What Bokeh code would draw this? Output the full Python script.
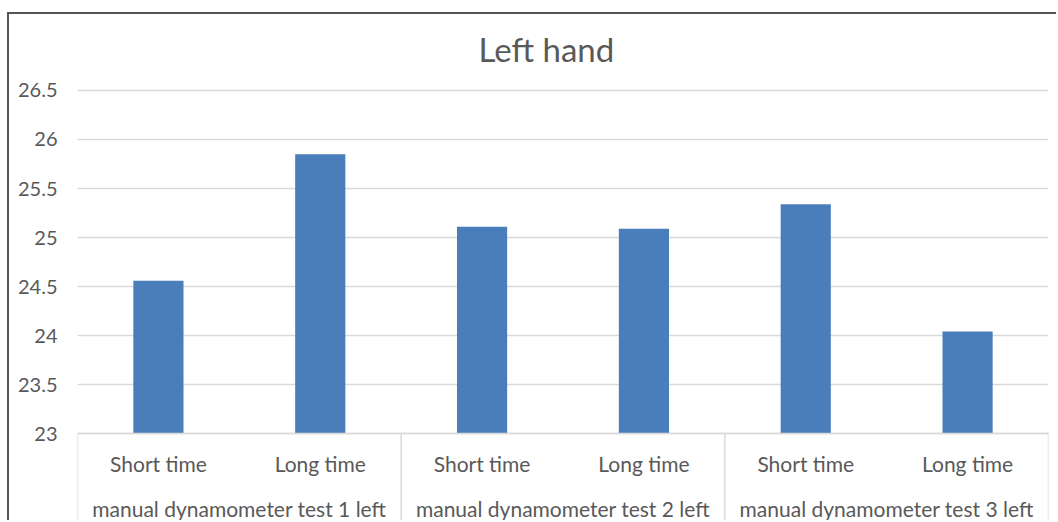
from bokeh.plotting import figure
from bokeh.models import FactorRange, Range1d, FixedTicker, ColumnDataSource
from bokeh.embed import file_html
from bokeh.resources import INLINE

# Grip strength, left hand, by test and duration
groups = ["manual dynamometer test 1 left",
          "manual dynamometer test 2 left",
          "manual dynamometer test 3 left"]
durations = ["Short time", "Long time"]
values = [24.56, 25.85, 25.11, 25.09, 25.34, 24.04]
y_ticks = [23, 23.5, 24, 24.5, 25, 25.5, 26, 26.5]

FONT = "Lato"
TEXT = "#595959"
GRID = "#d9d9d9"
BAR = "#4a7ebb"

factors = [(g, d) for g in groups for d in durations]
src = ColumnDataSource(dict(x=factors, top=values))

p = figure(
    width=1049, height=508,
    x_range=FactorRange(*factors, factor_padding=0, group_padding=0,
                        subgroup_padding=0, range_padding=0),
    y_range=Range1d(22.092, 26.602),
    output_backend="svg", toolbar_location=None,
    min_border_left=68, min_border_right=10,
    min_border_top=66, min_border_bottom=0,
    title="Left hand",
)
p.margin = (12, 0, 0, 7)
p.styles = {"border-top": "2px solid #555555", "border-left": "2px solid #555555"}
p.outline_line_color = None
p.background_fill_color = "white"
p.border_fill_color = "white"

# title
p.title.text_font = FONT
p.title.text_font_size = "33px"
p.title.text_font_style = "normal"
p.title.text_color = TEXT
p.title.align = "left"
p.title.offset = 401
p.title.standoff = 24

# bars rise from the 23 baseline
p.vbar(x="x", top="top", bottom=y_ticks[0], width=0.31, source=src,
       fill_color=BAR, line_color=None)

# category box below the baseline
edges = [(groups[0], durations[0], -0.5), (groups[1], durations[0], -0.5),
         (groups[2], durations[0], -0.5), (groups[2], durations[1], 0.5)]
p.segment(x0=edges, x1=edges, y0=[y_ticks[0]] * 4, y1=[22.0] * 4,
          line_color=GRID, line_width=1.5)

# y axis
yax = p.yaxis[0]
yax.ticker = FixedTicker(ticks=y_ticks)
yax.axis_line_color = None
yax.major_tick_line_color = None
yax.minor_tick_line_color = None
yax.major_tick_out = 0
yax.major_label_standoff = 20
yax.major_label_text_font = FONT
yax.major_label_text_font_size = "20px"
yax.major_label_text_color = TEXT

p.ygrid.ticker = FixedTicker(ticks=y_ticks)
p.ygrid.grid_line_color = GRID
p.ygrid.grid_line_width = 1.5
p.xgrid.grid_line_color = None

# x axis sits on the 23 baseline
xax = p.xaxis[0]
xax.fixed_location = y_ticks[0]
xax.axis_line_color = GRID
xax.axis_line_width = 1.5
xax.major_tick_line_color = None
xax.major_tick_out = 0
xax.major_tick_in = 0
xax.major_label_standoff = 17
xax.major_label_orientation = "horizontal"
xax.group_label_orientation = "horizontal"
xax.major_label_text_font = FONT
xax.major_label_text_font_size = "21px"
xax.major_label_text_line_height = 1.9
xax.major_label_text_color = TEXT
xax.group_text_font = FONT
xax.group_text_font_size = "21px"
xax.group_text_font_style = "normal"
xax.group_text_color = TEXT
xax.separator_line_color = None

open("out.html", "w").write(file_html(p, INLINE))
